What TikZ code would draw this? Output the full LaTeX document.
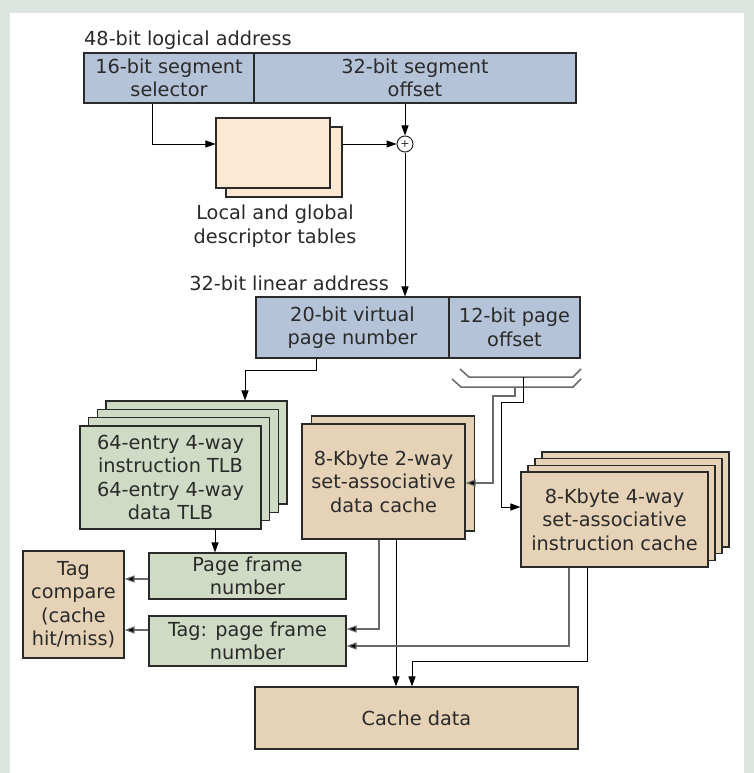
\documentclass[tikz,border=0pt]{standalone}
\usepackage{fontspec}
\setmainfont{DejaVu Sans}
\usetikzlibrary{arrows.meta,calc}
\definecolor{bgc}{HTML}{DCE5E0}
\definecolor{blueb}{HTML}{B4C3D8}
\definecolor{peach}{HTML}{FDE9D3}
\definecolor{greenb}{HTML}{CFDBC4}
\definecolor{tan}{HTML}{E6D2B6}
\definecolor{edge}{HTML}{2A2A2A}
\definecolor{txt}{HTML}{2A2A2A}
\definecolor{busg}{HTML}{6A6A6A}
\begin{document}
\begin{tikzpicture}[x=1pt,y=-1pt,
  font=\fontsize{19.3}{23.5}\selectfont, text=txt,
  box/.style={draw=edge,line width=1.1pt,inner sep=0pt,align=center,anchor=center},
  bluebox/.style={box,fill=blueb},
  peachbox/.style={box,fill=peach},
  greenbox/.style={box,fill=greenb},
  tanbox/.style={box,fill=tan},
  arr/.style={draw=black,line width=1pt,-{Triangle[length=10pt,width=7pt]}},
  garr/.style={draw=busg,line width=1.1pt,-{Triangle[length=10pt,width=7pt,fill=black]}},
  bus/.style={draw=busg,line width=1.5pt}]
\useasboundingbox (0,0) rectangle (754,773);
\fill[bgc] (0,0) rectangle (754,773);
\fill[white] (10,13) rectangle (744,773);

% top logical address
\node[anchor=west,inner sep=0pt] (lbl48) at (84,40) {48-bit logical address};
\node[bluebox,minimum width=170pt,minimum height=50pt] (sel) at (169,78) {16-bit segment\\selector};
\node[bluebox,minimum width=322pt,minimum height=50pt] (off) at (415,78) {32-bit segment\\offset};

% descriptor tables
\node[peachbox,minimum width=116pt,minimum height=70pt] (tabb) at (284,162) {};
\node[peachbox,minimum width=114pt,minimum height=70pt] (tabf) at (273,153) {};
\node[align=center] (tablbl) at (275,226) {Local and global\\descriptor tables};

% adder
\node[draw=edge,fill=white,circle,line width=1pt,minimum size=16pt,inner sep=0pt] (plus) at (405,144) {};
\node[inner sep=0pt,font=\fontsize{11}{11}\selectfont] (plustxt) at (plus.center) {+};

% linear address
\node[anchor=east,inner sep=0pt] (lbl32) at (389,283) {32-bit linear address};
\node[bluebox,minimum width=193pt,minimum height=61pt] (vpn) at (352.5,327.5) {20-bit virtual\\page number};
\node[bluebox,minimum width=131pt,minimum height=61pt] (pgo) at (514.5,327.5) {12-bit page\\offset};

% TLB stack
\node[greenbox,minimum width=181pt,minimum height=103pt] (tlb4) at (196.5,452.5) {};
\node[greenbox,minimum width=181pt,minimum height=103pt] (tlb3) at (187.8,460.8) {};
\node[greenbox,minimum width=181pt,minimum height=103pt] (tlb2) at (179.2,469.2) {};
\node[greenbox,minimum width=181pt,minimum height=103pt] (tlb1) at (170.5,477.5) {64-entry 4-way\\instruction TLB\\64-entry 4-way\\data TLB};

% page frame number boxes
\node[greenbox,minimum width=197pt,minimum height=46pt] (pfn) at (247.5,576) {Page frame\\number};
\node[greenbox,minimum width=197pt,minimum height=50pt] (tpfn) at (247.5,641) {Tag: page frame\\number};
\node[tanbox,minimum width=101pt,minimum height=107pt] (tagc) at (73.5,604.5) {Tag\\compare\\(cache\\hit/miss)};

% data cache
\node[tanbox,minimum width=163pt,minimum height=115pt] (dcb) at (393,473.5) {};
\node[tanbox,minimum width=163pt,minimum height=115pt] (dcf) at (383.5,481.5) {8-Kbyte 2-way\\set-associative\\data cache};

% instruction cache stack
\node[tanbox,minimum width=187pt,minimum height=95pt] (ic4) at (635.5,499.5) {};
\node[tanbox,minimum width=187pt,minimum height=95pt] (ic3) at (628.5,506.2) {};
\node[tanbox,minimum width=187pt,minimum height=95pt] (ic2) at (621.5,512.8) {};
\node[tanbox,minimum width=187pt,minimum height=95pt] (ic1) at (614.5,519.5) {8-Kbyte 4-way\\set-associative\\instruction cache};

% cache data
\node[tanbox,minimum width=323pt,minimum height=62pt] (cd) at (416.5,718) {Cache data};

% coordinates for routing
\coordinate (xsel) at (152,0);
\coordinate (b1) at (316,370);
\coordinate (b2) at (245,370);
\coordinate (xt) at (215,0);
\coordinate (y579) at (0,579);
\coordinate (y630) at (0,630);
\coordinate (d1) at (379,629);
\coordinate (d2) at (396,0);
\coordinate (i1) at (569,646);
\coordinate (i2) at (587,661);
\coordinate (i3) at (412,661);

% connectors top
\draw[arr] (sel.south -| xsel) |- (plus -| tabf.west);
\draw[arr] (plus -| tabb.east) -- (plus.west);
\draw[arr] (off.south -| plus) -- (plus.north);
\draw[arr] (plus.south) -- (plus |- vpn.north);

% vpn to TLB
\draw[arr] (vpn.south -| b1) |- (b2) -- (b2 |- tlb4.north);
\draw[arr] (tlb1.south -| xt) -- (xt |- pfn.north);
\draw[garr] (pfn.west |- y579) -- (tagc.east |- y579);
\draw[garr] (tpfn.west |- y630) -- (tagc.east |- y630);

% bus
\draw[bus] (460,369) -- (469,377) -- (573,377) -- (581,369);
\draw[bus] (452,379) -- (461,387) -- (573,387) -- (581,379);
\coordinate (g1) at (515,387);
\coordinate (g2) at (493,396);
\coordinate (k1) at (523,377);
\coordinate (k2) at (501,402);
\draw[garr] (g1) |- (g2) |- (dcf.east |- 0,483);
\draw[arr] (k1) |- (k2) |- (ic1.west |- 0,507);

% data cache down
\draw[garr] (dcf.south -| d1) |- (tpfn.east |- d1);
\draw[arr] (dcf.south -| d2) -- (d2 |- cd.north);
% instruction cache down
\draw[garr] (ic1.south -| i1) |- (tpfn.east |- i1);
\draw[arr] (ic1.south -| i2) |- (i3) -- (i3 |- cd.north);
\end{tikzpicture}
\end{document}
